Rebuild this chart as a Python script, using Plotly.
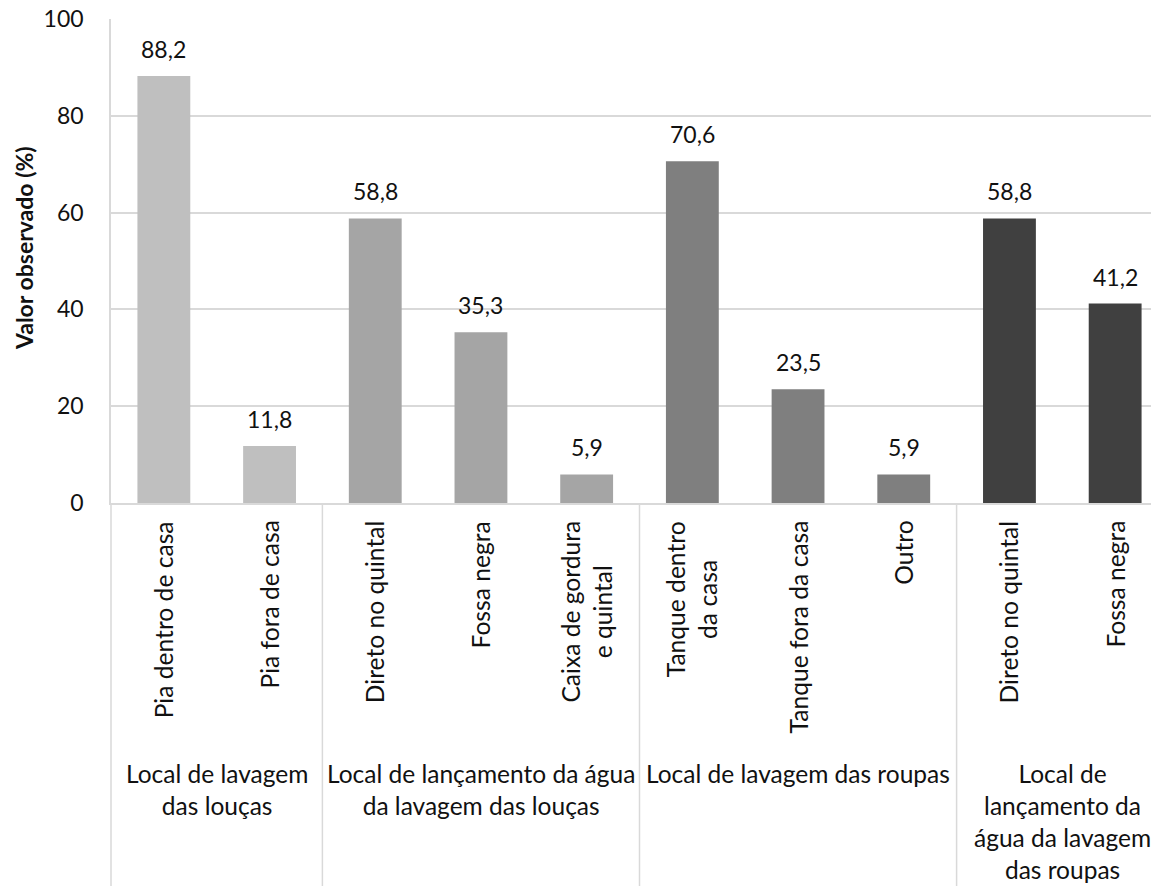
import plotly.graph_objects as go

groups = [
    "Local de lavagem<br>das louças",
    "Local de lançamento da água<br>da lavagem das louças",
    "Local de lavagem das roupas",
    "Local de<br>lançamento da<br>água da lavagem<br>das roupas",
]
categories = [
    ["Pia dentro de casa", "Pia fora de casa"],
    ["Direto no quintal", "Fossa negra", "Caixa de gordura<br>e quintal"],
    ["Tanque dentro<br>da casa", "Tanque fora da casa", "Outro"],
    ["Direto no quintal", "Fossa negra"],
]
values = [
    [88.2, 11.8],
    [58.8, 35.3, 5.9],
    [70.6, 23.5, 5.9],
    [58.8, 41.2],
]
group_colors = ["#BFBFBF", "#A5A5A5", "#7F7F7F", "#404040"]
y_ticks = [0, 20, 40, 60, 80, 100]

FONT = "Lato, 'Open Sans', sans-serif"
TXT = "#111111"
GRID = "#D9D9D9"

# page has an 8px body margin: figure is sized so it ends at the window edge
W, H = 1151, 878
ml, mt = 103, 11
plot_h = 484
mb = H - mt - plot_h
mr = 0
plot_w = W - ml - mr
slot_px = 105.7
x0 = -0.5
x1 = x0 + plot_w / slot_px

fig = go.Figure()
annotations = []
shapes = []

def to_paper_x(v):
    return (v - x0) / (x1 - x0)

idx = 0
boundaries = [-0.5]
for g, (gname, cats, vals, col) in enumerate(zip(groups, categories, values, group_colors)):
    xs = list(range(idx, idx + len(cats)))
    fig.add_trace(go.Bar(x=xs, y=vals, width=0.5, marker=dict(color=col, line=dict(width=0)),
                         showlegend=False, hoverinfo="skip"))
    for xi, c, v in zip(xs, cats, vals):
        annotations.append(dict(x=xi, y=v, xref="x", yref="y", text=f"{v:.1f}".replace(".", ","),
                                showarrow=False, yanchor="bottom", yshift=11,
                                font=dict(family=FONT, size=23, color=TXT)))
        annotations.append(dict(x=xi, y=-0.033, xref="x", yref="paper", text=c, textangle=-90,
                                showarrow=False, yanchor="top", xanchor="center", align="center",
                                font=dict(family=FONT, size=24.6, color=TXT)))
    center = (xs[0] + xs[-1]) / 2
    annotations.append(dict(x=center, y=-0.525, xref="x", yref="paper", text=gname,
                            showarrow=False, yanchor="top", xanchor="center", align="center",
                            font=dict(family=FONT, size=24.5, color=TXT)))
    idx += len(cats)
    boundaries.append(idx - 0.5)

for b in boundaries:
    px = to_paper_x(b)
    shapes.append(dict(type="line", xref="paper", yref="paper", x0=px, x1=px, y0=0, y1=-mb / plot_h,
                       line=dict(color=GRID, width=1.5), layer="below"))

annotations.append(dict(x=(24 - 111) / plot_w, y=(503 - 248) / plot_h, xref="paper", yref="paper",
                        text="<b>Valor observado (%)</b>", textangle=-90, showarrow=False,
                        xanchor="center", yanchor="middle",
                        font=dict(family=FONT, size=23, color=TXT)))

fig.update_layout(
    width=W, height=H,
    margin=dict(l=ml, r=mr, t=mt, b=mb, autoexpand=False),
    paper_bgcolor="white", plot_bgcolor="white",
    separators=",.",
    annotations=annotations,
    shapes=shapes,
    xaxis=dict(range=[x0, x1], showticklabels=False, showgrid=False, zeroline=False,
               showline=True, linecolor=GRID, linewidth=1.5, ticks=""),
    yaxis=dict(range=[0, 100], tickvals=y_ticks, showgrid=True, gridcolor=GRID, gridwidth=1.5,
               zeroline=False, showline=True, linecolor=GRID, linewidth=1.5, ticks="",
               ticklabelstandoff=21, ticklabeloverflow="allow",
               tickfont=dict(family=FONT, size=23, color=TXT)),
)

fig.write_html("out.html")
